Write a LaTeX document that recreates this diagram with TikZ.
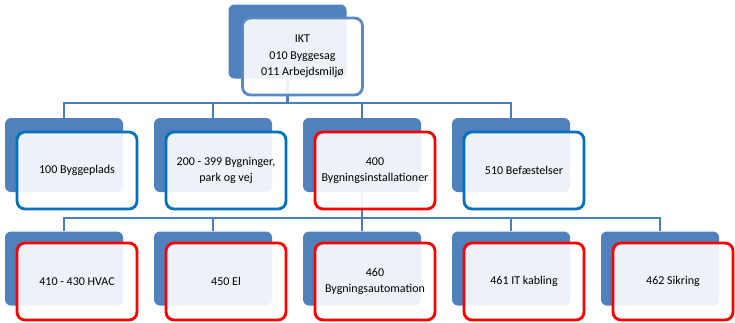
\documentclass[tikz,border=0pt]{standalone}
\usepackage{fontspec}
\setmainfont{Carlito}
\begin{document}
\begin{tikzpicture}[x=1pt,y=-1pt,
  back/.style={draw=none,fill=bk,rounded corners=6pt,minimum width=118pt,minimum height=74pt,inner sep=0pt},
  front/.style={fill=white,fill opacity=0.9,text opacity=1,line width=2.8pt,rounded corners=8pt,minimum width=120pt,minimum height=77pt,inner sep=1pt,align=center,font=\fontsize{12}{16.5}\selectfont,text=black},
  fblue/.style={front,draw=bl},
  fred/.style={front,draw=rd},
  ftop/.style={front,draw=tb},
  conn/.style={draw=ln,line width=2.8pt}]
\definecolor{bk}{HTML}{4F81BD}
\definecolor{ln}{HTML}{4A7EBB}
\definecolor{bl}{HTML}{0070C0}
\definecolor{rd}{HTML}{FF0000}
\definecolor{tb}{HTML}{5A8AC6}
\useasboundingbox (0,0) rectangle (735,322);
% back boxes
\node[back] (t) at (287.5,41.5) {};
\foreach \i/\x in {1/64,2/213,3/362,4/511} \node[back] (a\i) at (\x,155) {};
\foreach \i/\x in {1/64,2/213,3/362,4/511,5/660} \node[back] (b\i) at (\x,268.5) {};
% connectors (behind front boxes)
\coordinate (h1) at (0,103);
\coordinate (h2) at (0,218);
\foreach \i in {1,...,4} \draw[conn] (t.south) |- (a\i.north |- h1) -- (a\i.north);
\foreach \i in {1,...,5} \draw[conn] (a3.south) |- (b\i.north |- h2) -- (b\i.north);
% front boxes
\node[ftop] (T) at (302.5,56.5) {IKT\\010 Byggesag\\011 Arbejdsmiljø};
\node[fblue] (A1) at (77,170.5) {100 Byggeplads};
\node[fblue] (A2) at (226,170.5) {200 - 399 Bygninger,\\park og vej};
\node[fred] (A3) at (375,170.5) {400\\Bygningsinstallationer};
\node[fblue] (A4) at (524,170.5) {510 Befæstelser};
\node[fred] (B1) at (77,281.5) {410 - 430 HVAC};
\node[fred] (B2) at (226,281.5) {450 El};
\node[fred] (B3) at (375,281.5) {460\\Bygningsautomation};
\node[fred] (B4) at (524,281.5) {461 IT kabling};
\node[fred] (B5) at (673,281.5) {462 Sikring};
\end{tikzpicture}
\end{document}
